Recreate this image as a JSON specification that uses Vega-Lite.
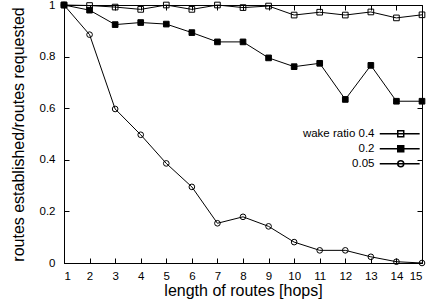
{
  "$schema": "https://vega.github.io/schema/vega-lite/v6.json",
  "width": 358,
  "height": 258,
  "autosize": {"type": "none"},
  "padding": {"left": 64, "top": 5, "right": 9, "bottom": 44},
  "config": {
    "font": "Liberation Sans",
    "view": {"stroke": "black", "strokeWidth": 1},
    "axis": {
      "grid": false,
      "domainColor": "black",
      "tickColor": "black",
      "tickSize": -5,
      "labelColor": "black",
      "titleColor": "black",
      "labelFontSize": 11.5,
      "titleFontSize": 16,
      "titleFontWeight": "normal",
      "labelFont": "Liberation Sans",
      "titleFont": "Liberation Sans"
    }
  },
  "data": {
    "values": [
      {"hops": 1, "series": "wake ratio 0.4", "v": 1.0},
      {"hops": 2, "series": "wake ratio 0.4", "v": 0.998},
      {"hops": 3, "series": "wake ratio 0.4", "v": 0.992},
      {"hops": 4, "series": "wake ratio 0.4", "v": 0.983},
      {"hops": 5, "series": "wake ratio 0.4", "v": 1.0},
      {"hops": 6, "series": "wake ratio 0.4", "v": 0.983},
      {"hops": 7, "series": "wake ratio 0.4", "v": 1.0},
      {"hops": 8, "series": "wake ratio 0.4", "v": 0.99},
      {"hops": 9, "series": "wake ratio 0.4", "v": 0.996},
      {"hops": 10, "series": "wake ratio 0.4", "v": 0.961},
      {"hops": 11, "series": "wake ratio 0.4", "v": 0.972},
      {"hops": 12, "series": "wake ratio 0.4", "v": 0.961},
      {"hops": 13, "series": "wake ratio 0.4", "v": 0.973},
      {"hops": 14, "series": "wake ratio 0.4", "v": 0.95},
      {"hops": 15, "series": "wake ratio 0.4", "v": 0.962},
      {"hops": 1, "series": "0.2", "v": 1.0},
      {"hops": 2, "series": "0.2", "v": 0.98},
      {"hops": 3, "series": "0.2", "v": 0.924},
      {"hops": 4, "series": "0.2", "v": 0.932},
      {"hops": 5, "series": "0.2", "v": 0.926},
      {"hops": 6, "series": "0.2", "v": 0.893},
      {"hops": 7, "series": "0.2", "v": 0.857},
      {"hops": 8, "series": "0.2", "v": 0.857},
      {"hops": 9, "series": "0.2", "v": 0.795},
      {"hops": 10, "series": "0.2", "v": 0.761},
      {"hops": 11, "series": "0.2", "v": 0.774},
      {"hops": 12, "series": "0.2", "v": 0.634},
      {"hops": 13, "series": "0.2", "v": 0.766},
      {"hops": 14, "series": "0.2", "v": 0.627},
      {"hops": 15, "series": "0.2", "v": 0.627},
      {"hops": 1, "series": "0.05", "v": 1.0},
      {"hops": 2, "series": "0.05", "v": 0.885},
      {"hops": 3, "series": "0.05", "v": 0.597},
      {"hops": 4, "series": "0.05", "v": 0.497},
      {"hops": 5, "series": "0.05", "v": 0.386},
      {"hops": 6, "series": "0.05", "v": 0.295},
      {"hops": 7, "series": "0.05", "v": 0.154},
      {"hops": 8, "series": "0.05", "v": 0.179},
      {"hops": 9, "series": "0.05", "v": 0.142},
      {"hops": 10, "series": "0.05", "v": 0.081},
      {"hops": 11, "series": "0.05", "v": 0.049},
      {"hops": 12, "series": "0.05", "v": 0.049},
      {"hops": 13, "series": "0.05", "v": 0.024},
      {"hops": 14, "series": "0.05", "v": 0.005},
      {"hops": 15, "series": "0.05", "v": 0.0}
    ]
  },
  "resolve": {
    "axis": {"x": "independent", "y": "independent"},
    "scale": {"shape": "independent", "fill": "independent"}
  },
  "layer": [
    {
      "mark": {"type": "line", "color": "black", "strokeWidth": 1},
      "encoding": {
        "x": {
          "field": "hops", "type": "quantitative",
          "scale": {"domain": [1, 15], "nice": false, "zero": false},
          "axis": {"orient": "bottom", "values": [1,2,3,4,5,6,7,8,9,10,11,12,13,14,15], "title": "length of routes [hops]", "labelPadding": 12, "titlePadding": 1}
        },
        "y": {
          "field": "v", "type": "quantitative",
          "scale": {"domain": [0, 1], "nice": false},
          "axis": {"orient": "left", "values": [0, 0.2, 0.4, 0.6, 0.8, 1], "format": "~g", "title": "routes established/routes requested", "labelPadding": 14, "titlePadding": 13}
        },
        "detail": {"field": "series"}
      }
    },
    {
      "mark": {"type": "point", "filled": true, "stroke": "black", "strokeWidth": 1, "size": 32, "opacity": 1},
      "encoding": {
        "x": {"field": "hops", "type": "quantitative", "axis": null},
        "y": {"field": "v", "type": "quantitative", "axis": null},
        "shape": {"field": "series", "scale": {"domain": ["wake ratio 0.4", "0.2", "0.05"], "range": ["square", "square", "circle"]}, "legend": null},
        "fill": {"field": "series", "scale": {"domain": ["wake ratio 0.4", "0.2", "0.05"], "range": ["transparent", "black", "transparent"]}, "legend": null}
      }
    },
    {
      "mark": {"type": "point", "filled": false, "stroke": "black", "strokeWidth": 1, "size": 49, "opacity": 0},
      "encoding": {
        "x": {"field": "hops", "type": "quantitative", "axis": {"orient": "top", "values": [1,2,3,4,5,6,7,8,9,10,11,12,13,14,15], "labels": false, "title": null, "domain": false}},
        "y": {"field": "v", "type": "quantitative", "axis": {"orient": "right", "values": [0, 0.2, 0.4, 0.6, 0.8, 1], "labels": false, "title": null, "domain": false}},
        "shape": {
          "field": "series",
          "scale": {"domain": ["wake ratio 0.4", "0.2", "0.05"], "range": [
            "M-6,0H5.4M-0.85,-0.85H0.85V0.85H-0.85Z",
            "M-6,0H5.4M-0.85,-0.85H0.85V0.85H-0.85ZM-0.85,-0.57H0.85M-0.85,-0.29H0.85M-0.85,0.29H0.85M-0.85,0.57H0.85",
            "M-6,0H5.4M0.85,0A0.85,0.85 0 1,1 -0.85,0A0.85,0.85 0 1,1 0.85,0Z"]},
          "legend": {
            "orient": "none", "legendX": 331, "legendY": 123, "title": null,
            "labelAlign": "right", "labelOffset": -32, "gridAlign": "none",
            "labelExpr": "(datum.index === 1 || datum.label == '0.2' || datum.value == '0.2') ? '\u00a0\u00a0\u00a0\u00a0\u00a0\u00a0\u00a0\u00a0\u00a0\u00a0\u00a0\u00a0\u00a0\u00a0\u00a0\u00a0\u00a00.2' : datum.label",
            "labelFontSize": 11.5, "labelColor": "black",
            "symbolSize": 49, "rowPadding": 2, "padding": 0,
            "encode": {
              "symbols": {"update": {
                "stroke": {"value": "black"}, "strokeWidth": {"value": 1}, "opacity": {"value": 1}
              }}
            }
          }
        }
      }
    }
  ]
}
